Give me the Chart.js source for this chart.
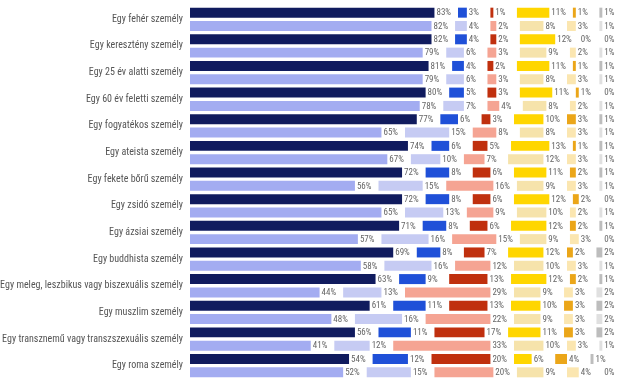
<!DOCTYPE html>
<html><head><meta charset="utf-8">
<script src="https://cdn.jsdelivr.net/npm/chart.js@4/dist/chart.umd.min.js"></script>
<style>html,body{margin:0;padding:0;background:#fff}#wrap{width:620px;height:385px;position:relative}</style>
</head><body><div id="wrap"><canvas id="c"></canvas></div>
<script>
const categories = [
  "Egy fehér személy","Egy keresztény személy","Egy 25 év alatti személy","Egy 60 év feletti személy",
  "Egy fogyatékos személy","Egy ateista személy","Egy fekete bőrű személy","Egy zsidó személy",
  "Egy ázsiai személy","Egy buddhista személy","Egy meleg, leszbikus vagy biszexuális személy",
  "Egy muszlim személy","Egy transznemű vagy transzszexuális személy","Egy roma személy"
];
const s1Dark  = [83,82,81,80,77,74,72,72,71,69,63,61,56,54];
const s1Light = [82,79,79,78,65,67,56,65,57,58,44,48,41,52];
const s2Dark  = [3,4,4,5,6,6,8,8,8,8,9,11,11,12];
const s2Light = [4,6,6,7,15,10,15,13,16,16,13,16,12,15];
const s3Dark  = [1,2,2,3,3,5,6,6,6,7,13,13,17,20];
const s3Light = [2,3,3,4,8,7,16,9,15,12,29,22,33,20];
const s4Dark  = [11,12,11,11,10,13,11,12,12,12,12,10,11,6];
const s4Light = [8,9,8,8,8,12,9,10,9,10,9,9,10,9];
const s5Dark  = [1,0,1,1,3,1,2,2,2,2,2,3,3,4];
const s5Light = [3,2,3,2,3,3,3,2,3,3,3,3,3,4];
const s6Dark  = [1,0,1,0,1,1,1,0,1,2,1,2,2,1];
const s6Light = [1,1,1,1,1,1,1,1,0,1,2,2,1,0];

const GAP = 8;
const FONT = "'Roboto Condensed', 'Liberation Sans', sans-serif";
const darkSeries  = [s1Dark,s2Dark,s3Dark,s4Dark,s5Dark,s6Dark];
const lightSeries = [s1Light,s2Light,s3Light,s4Light,s5Light,s6Light];
const darkColors  = ["#101b5e","#1f50d8","#c0300e","#ffd600","#eba619","#bdbdbd"];
const lightColors = ["#a3acf1","#c6cbf3","#f5a493","#f6e3ab","#fbe6b0","#e0e0e0"];

function buildStack(series, colors, stack){
  const out = [];
  series.forEach((vals, i) => {
    out.push({data: vals, backgroundColor: colors[i], stack, isValue: true,
      categoryPercentage: 1, barPercentage: 0.75});
    if (i < series.length - 1) {
      out.push({data: vals.map(() => GAP), backgroundColor: "rgba(0,0,0,0)", stack, isValue: false,
        categoryPercentage: 1, barPercentage: 0.75});
    }
  });
  return out;
}
const datasets = buildStack(darkSeries, darkColors, "D").concat(buildStack(lightSeries, lightColors, "L"));

const valueLabels = {
  id: "valueLabels",
  afterDatasetsDraw(chart){
    const ctx = chart.ctx;
    ctx.save();
    ctx.font = "9px " + FONT;
    ctx.fillStyle = "#666";
    ctx.textBaseline = "middle";
    ctx.textAlign = "left";
    chart.data.datasets.forEach((ds, di) => {
      if (!ds.isValue) return;
      const meta = chart.getDatasetMeta(di);
      meta.data.forEach((el, i) => {
        ctx.fillText(ds.data[i] + "%", el.x + 2, el.y + 0.5);
      });
    });
    ctx.restore();
  }
};

new Chart(document.getElementById("c"), {
  type: "bar",
  data: {labels: categories, datasets},
  options: {
    indexAxis: "y",
    responsive: true,
    maintainAspectRatio: false,
    animation: false,
    layout: {padding: {top: 5, bottom: 6, left: 0, right: 0}},
    plugins: {legend: {display: false}, tooltip: {enabled: false}},
    scales: {
      x: {stacked: true, min: 0, max: 146, display: false},
      y: {stacked: true,
        grid: {display: false, drawTicks: true, tickLength: 7},
        border: {display: false},
        ticks: {color: "#555", padding: 0, autoSkip: false,
          font: {family: FONT, size: 10}},
        afterFit(scale){ scale.width = 190; }
      }
    }
  },
  plugins: [valueLabels]
});
</script>
</body></html>
